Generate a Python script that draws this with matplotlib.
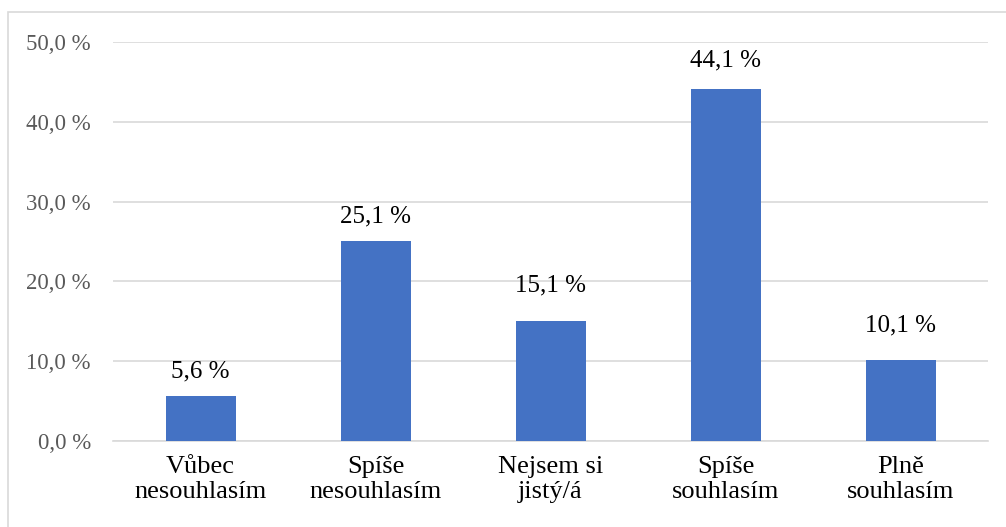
import matplotlib.pyplot as plt
from matplotlib.patches import Rectangle

categories = ['Vůbec\nnesouhlasím', 'Spíše\nnesouhlasím', 'Nejsem si\njistý/á',
              'Spíše\nsouhlasím', 'Plně\nsouhlasím']
values = [5.6, 25.1, 15.1, 44.1, 10.1]
yticks = [0, 10, 20, 30, 40, 50]

# label distance above each bar (points), as placed in the original
label_pad = [10, 9.5, 17.5, 12.5, 17.5]

plt.rcParams['font.family'] = ['Liberation Serif', 'DejaVu Serif']

fig = plt.figure(figsize=(10.06, 5.27), dpi=100)
ax = fig.add_axes([113 / 1006, 86 / 527, 875 / 1006, 399 / 527])

# outer chart border
fig.patches.append(Rectangle((8 / 1006, -0.05), 1.2, (527 - 12) / 527 + 0.05,
                             transform=fig.transFigure, fill=False,
                             edgecolor='#d9d9d9', linewidth=1.2))

x = range(len(values))
ax.bar(x, values, width=0.4, color='#4472c4', zorder=3)

for xi, v, p in zip(x, values, label_pad):
    ax.annotate('{:.1f} %'.format(v).replace('.', ','), (xi, v),
                xytext=(0, p), textcoords='offset points',
                ha='center', va='bottom', fontsize=18, color='black')

ax.set_xlim(-0.5, 4.5)
ax.set_ylim(0, 50)
ax.set_yticks(yticks)
ax.set_yticklabels(['{:.1f} %'.format(t).replace('.', ',') for t in yticks],
                   color='#595959', fontsize=16.5)
ax.set_xticks(list(x))
ax.set_xticklabels(categories, fontsize=19, color='black', linespacing=1.15)
ax.tick_params(axis='both', length=0)
ax.tick_params(axis='y', pad=16)
ax.tick_params(axis='x', pad=11)

ax.grid(axis='y', color='#d9d9d9', linewidth=1.2, zorder=0)
for s in ['top', 'right', 'left']:
    ax.spines[s].set_visible(False)
ax.spines['bottom'].set_color('#d9d9d9')
ax.spines['bottom'].set_linewidth(1.2)

fig.savefig('out.png', dpi=100)
